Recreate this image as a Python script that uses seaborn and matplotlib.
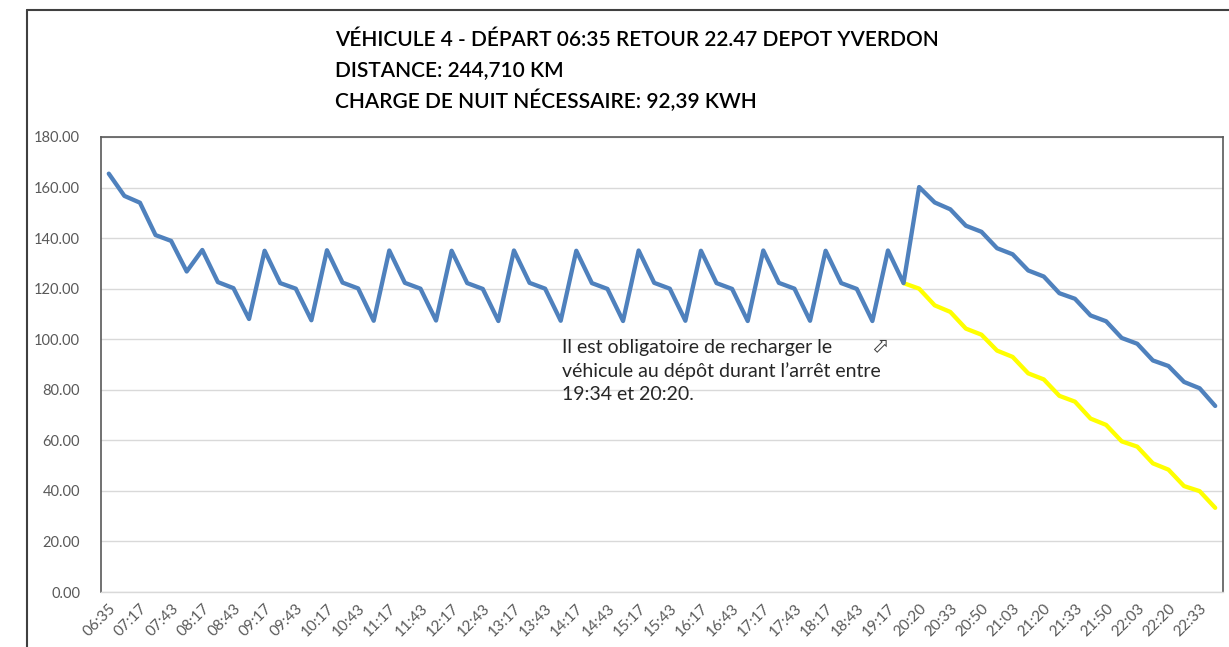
import numpy as np
import pandas as pd
import matplotlib
matplotlib.use("Agg")
import matplotlib.pyplot as plt
from matplotlib.lines import Line2D
import seaborn as sns

# Horaires (une valeur par arrêt, une sur deux affichée sur l'axe)
times = [
    "06:35", "06:58", "07:17", "07:31", "07:43", "08:05", "08:17", "08:31",
    "08:43", "09:05", "09:17", "09:31", "09:43", "10:05", "10:17", "10:31",
    "10:43", "11:05", "11:17", "11:31", "11:43", "12:05", "12:17", "12:31",
    "12:43", "13:05", "13:17", "13:31", "13:43", "14:05", "14:17", "14:31",
    "14:43", "15:05", "15:17", "15:31", "15:43", "16:05", "16:17", "16:31",
    "16:43", "17:05", "17:17", "17:31", "17:43", "18:05", "18:17", "18:31",
    "18:43", "19:05", "19:17", "19:34", "20:20", "20:27", "20:33", "20:45",
    "20:50", "20:57", "21:03", "21:15", "21:20", "21:27", "21:33", "21:45",
    "21:50", "21:57", "22:03", "22:15", "22:20", "22:27", "22:33", "22:47",
]

# Etat de charge (kWh) avec recharge au dépôt
soc_with_charge = [
    165.5, 156.7, 154.0, 141.2, 138.9, 126.8,
    135.3, 122.6, 120.2, 108.0,
    135.0, 122.2, 120.0, 107.5,
    135.2, 122.4, 120.1, 107.3,
    135.1, 122.3, 120.0, 107.4,
    135.0, 122.2, 119.9, 107.2,
    135.1, 122.3, 120.0, 107.3,
    135.0, 122.2, 119.9, 107.2,
    135.1, 122.3, 120.0, 107.3,
    135.0, 122.2, 119.9, 107.2,
    135.1, 122.3, 120.0, 107.3,
    135.0, 122.2, 119.9, 107.2,
    135.1, 122.2,
    160.2, 154.1, 151.4, 144.9, 142.5, 136.0, 133.6, 127.2, 124.8, 118.2,
    116.0, 109.4, 107.1, 100.5, 98.2, 91.6, 89.4, 83.1, 80.6, 73.6,
]

# Etat de charge sans recharge (à partir de 19:34)
soc_without_charge = [np.nan] * 51 + [
    122.2, 120.0, 113.4, 110.8, 104.2, 101.8, 95.5, 93.0, 86.5, 84.1,
    77.6, 75.3, 68.6, 66.1, 59.6, 57.5, 50.9, 48.4, 41.9, 39.9, 33.3,
]

title_lines = [
    "VÉHICULE 4 - DÉPART 06:35 RETOUR 22.47 DEPOT YVERDON",
    "DISTANCE: 244,710 KM",
    "CHARGE DE NUIT NÉCESSAIRE: 92,39 KWH",
]
note_lines = [
    "Il est obligatoire de recharger le",
    "véhicule au dépôt durant l\u2019arrêt entre",
    "19:34 et 20:20.",
]

sns.set_theme(style="white")
plt.rcParams["font.family"] = ["Lato", "DejaVu Sans"]

W, H = 1229, 647
fig = plt.figure(figsize=(W / 100, H / 100), dpi=100)
ax = fig.add_axes([101 / W, 1 - 592 / H, (1223 - 101) / W, (592 - 137) / H])

df = pd.DataFrame({
    "pos": np.arange(len(times)),
    "with": soc_with_charge,
    "without": soc_without_charge,
})

sns.lineplot(data=df, x="pos", y="without", ax=ax, color="#FFFF00",
             linewidth=3.1, solid_joinstyle="round")
sns.lineplot(data=df, x="pos", y="with", ax=ax, color="#4F81BD",
             linewidth=3.1, solid_joinstyle="round")

ax.set_xlim(-0.5, len(times) - 0.5)
ax.set_ylim(0, 180)
ax.set_yticks(np.arange(0, 181, 20))
ax.set_yticklabels([f"{v:.2f}" for v in np.arange(0, 181, 20)],
                   color="#595959", fontsize=10.5)
ax.set_xticks(df["pos"][::2])
ax.set_xticklabels(times[::2], rotation=45, ha="right",
                   rotation_mode="anchor", color="#595959", fontsize=11)
ax.tick_params(axis="y", length=0, pad=15)
ax.tick_params(axis="x", length=0, pad=7)
ax.set_xlabel("")
ax.set_ylabel("")

ax.yaxis.grid(True, color="#D9D9D9", linewidth=1)
ax.set_axisbelow(True)
for side in ["left", "top", "right"]:
    ax.spines[side].set_color("#595959")
    ax.spines[side].set_linewidth(1.2)
ax.spines["bottom"].set_color("#D9D9D9")
ax.spines["bottom"].set_linewidth(1)

# cadre extérieur du graphique
fig.add_artist(Line2D([27 / W, 27 / W], [0, 1 - 10 / H], color="#404040", lw=1.5))
fig.add_artist(Line2D([27 / W, 1], [1 - 10 / H, 1 - 10 / H], color="#404040", lw=1.5))

# titre sur trois lignes
for i, line in enumerate(title_lines):
    fig.text(335 / W, 1 - (40 + 30.5 * i) / H, line, ha="left", va="center",
             fontsize=15, fontweight="semibold", color="black")

for i, line in enumerate(note_lines):
    fig.text(562 / W, 1 - (348 + 23 * i) / H, line, ha="left", va="center",
             fontsize=14, color="#262626")
fig.text(880 / W, 1 - 345 / H, "\u2B00", ha="center", va="center",
         fontsize=15, color="#404040", family=["DejaVu Sans"])

fig.savefig("out.png", dpi=100)
